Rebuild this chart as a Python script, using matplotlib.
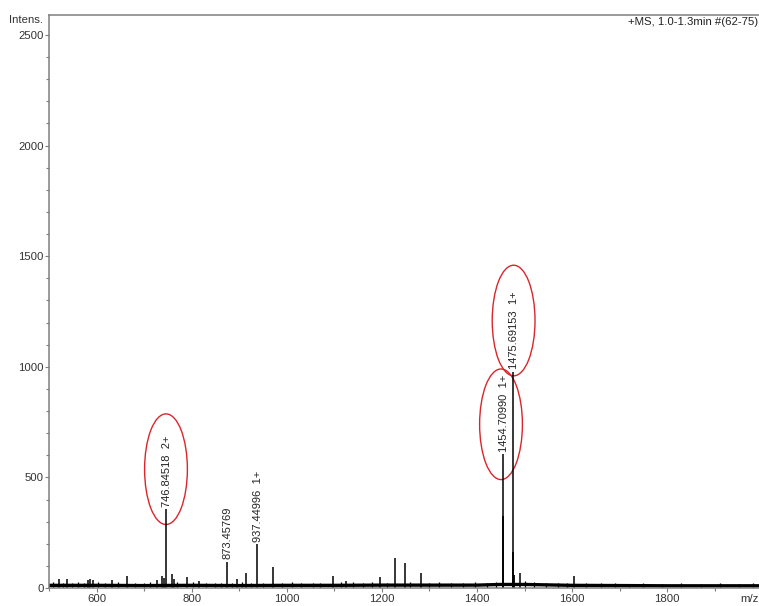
import numpy as np
import matplotlib
matplotlib.use('Agg')
import matplotlib.pyplot as plt
from matplotlib.patches import Ellipse

plt.rcParams['font.family'] = ['Liberation Sans', 'DejaVu Sans']

peakMz = [746.84518, 873.45769, 937.44996, 1454.70990, 1475.69153]
peakInt = [356, 117, 198, 604, 978]
peakLabels = ['746.84518  2+', '873.45769', '937.44996  1+',
              '1454.70990  1+', '1475.69153  1+']

# Piki izotopowe przy glownych pikach
isoMz = [1455.71, 1476.69, 1477.69]
isoInt = [325, 162, 60]

# Male piki
minorMz = [521, 537, 583, 587, 592, 632, 663, 727, 737, 741, 758, 762, 790,
           815, 895, 914, 971, 1097, 1125, 1196, 1227, 1248, 1282, 1490, 1605]
minorInt = [40, 40, 38, 40, 36, 36, 54, 38, 54, 45, 63, 40, 50,
            30, 40, 68, 95, 54, 30, 50, 135, 113, 68, 68, 54]

# Drobne piki szumu widoczne nad tlem
grassMz = [508, 530, 548, 560, 574, 604, 618, 646, 680, 700, 712, 770, 802,
           830, 850, 862, 884, 905, 925, 950, 990, 1010, 1030, 1055, 1070,
           1115, 1140, 1160, 1180, 1210, 1260, 1300, 1320, 1345, 1370, 1395,
           1420, 1440, 1500, 1520, 1545, 1570, 1590, 1630, 1660, 1690, 1720,
           1750, 1790, 1830, 1870, 1910, 1950, 1980]
grassInt = [26, 24, 22, 25, 23, 28, 22, 25, 24, 22, 26, 28, 25,
            22, 24, 23, 22, 26, 24, 23, 22, 25, 24, 23, 22,
            28, 26, 24, 25, 23, 27, 24, 26, 23, 24, 25,
            24, 28, 30, 26, 22, 24, 22, 24, 21, 22, 20,
            21, 20, 21, 20, 22, 20, 21]

# Poziom tla (szum)
baseMz = [500, 600, 700, 800, 900, 1000, 1100, 1200, 1300, 1400, 1450, 1500,
          1600, 1700, 1800, 1900, 2000]
baseInt = [12, 12, 11, 12, 11, 12, 12, 13, 13, 13, 16, 16, 12, 11, 10, 10, 10]

# Elipsy wokol etykiet: (m/z, intensywnosc srodka)
ellMz = [746, 1450.5, 1477]
ellInt = [537, 740, 1209]

fig = plt.figure(figsize=(7.59, 6.06), dpi=100)
ax = fig.add_axes([49 / 759, 18 / 606, 710 / 759, 573 / 606])

ax.plot(baseMz, baseInt, color='black', lw=2.4, solid_capstyle='butt')
ax.vlines(grassMz, 0, grassInt, color='black', lw=0.9)
ax.vlines(minorMz, 0, minorInt, color='black', lw=1.1)
ax.vlines(isoMz, 0, isoInt, color='black', lw=1.3)
ax.vlines(peakMz, 0, peakInt, color='black', lw=1.1)

for mz, h, lab in zip(peakMz, peakInt, peakLabels):
    ax.text(mz + 2, h + 12, lab, rotation=90, ha='center', va='bottom',
            fontsize=8, color='#222222')

for mz, h in zip(ellMz, ellInt):
    ax.add_patch(Ellipse((mz, h), 90, 500, fill=False, ec='#d9262c', lw=1.0))

ax.set_xlim(500, 1993)
ax.set_ylim(0, 2590)
ax.set_xticks(np.arange(600, 2000, 200))
ax.set_xticks(np.arange(500, 2000, 100), minor=True)
ax.set_yticks(np.arange(0, 2501, 500))
ax.set_yticks(np.arange(0, 2600, 100), minor=True)

for s in ['left', 'top', 'bottom']:
    ax.spines[s].set_color('#7f7f7f')
    ax.spines[s].set_linewidth(1.1)
ax.spines['right'].set_visible(False)

ax.tick_params(which='major', length=3, width=0.8, color='#7f7f7f',
               labelsize=8.2, labelcolor='#333333', pad=1)
ax.tick_params(which='minor', length=2, width=0.8, color='#7f7f7f')

fig.text(43 / 759, 1 - 20 / 606, 'Intens.', ha='right', va='center',
         fontsize=8.2, color='#333333')
fig.text(0.999, 1 - 22 / 606, '+MS, 1.0-1.3min #(62-75)', ha='right',
         va='center', fontsize=8.2, color='#222222')
ax.annotate('m/z', xy=(0.987, 0), xycoords='axes fraction', xytext=(0, -4),
            textcoords='offset points', ha='center', va='top', fontsize=8.2,
            color='#333333')

fig.savefig('out.png', dpi=100)
